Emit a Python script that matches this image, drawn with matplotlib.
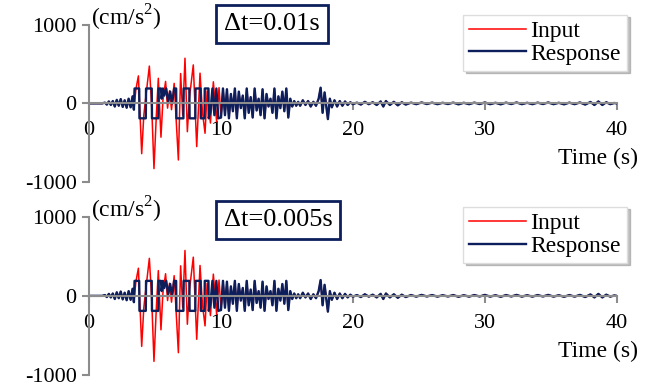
import matplotlib
matplotlib.use("Agg")
import matplotlib.pyplot as plt
import numpy as np

SERIF_FONT = "Liberation Serif"
TICK_SIZE = 16
TEXT_SIZE = 17
BOX_SIZE = 19
COLOR_INPUT = "#ff0000"
COLOR_RESPONSE = "#0c1f5c"
COLOR_AXIS = "#8c8c8c"

# quiet start (same for input and response)
pre_t = [0.0, 1.0, 1.2, 1.35, 1.5, 1.65, 1.8, 1.95, 2.1, 2.25, 2.4, 2.55, 2.7,
         2.85, 3.0, 3.15, 3.3, 3.4]
pre_a = [0, 0, 10, -15, 25, -20, 30, -40, 45, -30, 55, -45, 40, -55, 60, -50,
         90, -80]

# strong part of the input record
main_in_t = [3.55, 3.74, 3.99, 4.15, 4.3, 4.57, 4.75, 4.92, 5.1, 5.25, 5.45,
             5.6, 5.8, 5.95, 6.1, 6.25, 6.45, 6.77, 6.94, 7.1, 7.27, 7.45, 7.6,
             7.9, 8.16, 8.41, 8.6, 8.79, 8.95, 9.2, 9.42, 9.67, 9.85]
main_in_a = [180, 350, -640, -150, 80, 475, -50, -830, -150, 320, -430, 40,
             280, -60, 160, -80, 255, -720, 380, -150, 575, -360, 60, 490,
             -550, 385, -120, -380, 160, -250, 275, -234, 200]

# strong part of the response (capped near +/-190)
main_resp_t = [3.45, 3.8, 3.82, 4.3, 4.32, 4.75, 4.77, 5.25, 5.27, 5.45, 5.5,
               5.6, 5.7, 5.85, 6.0, 6.15, 6.3, 6.45, 6.6, 6.62, 7.15, 7.17,
               7.6, 7.62, 8.05, 8.07, 8.45, 8.47, 8.75, 8.77, 9.05, 9.07, 9.2,
               9.35, 9.5, 9.65, 9.8]
main_resp_a = [190, 190, -190, -190, 190, 190, -190, -190, 190, 190, 60, 190,
               100, 190, 20, 150, 0, 190, 190, -190, -190, 190, 190, -190,
               -190, 190, 190, -190, -190, 190, 190, -190, -100, 190, -150,
               190, -190]

# decaying part (input and response overlap)
tail_t = [10.0, 10.15, 10.3, 10.45, 10.6, 10.75, 10.9, 11.05, 11.2, 11.35,
          11.5, 11.65, 11.8, 11.95, 12.1, 12.25, 12.4, 12.55, 12.7, 12.85,
          13.0, 13.15, 13.3, 13.45, 13.6, 13.75, 13.9, 14.05, 14.2, 14.35,
          14.5, 14.65, 14.8, 14.95, 15.1, 15.25, 15.4, 15.55, 15.7, 15.85,
          16.0, 16.2, 16.4, 16.6, 16.8, 17.0, 17.2, 17.4, 17.55, 17.7, 17.85,
          18.0, 18.1, 18.25, 18.4, 18.6, 18.8, 19.0, 19.2, 19.4, 19.6, 19.8,
          20.0, 20.3, 20.6, 20.9, 21.2, 21.5, 21.8, 22.1, 22.3, 22.5, 22.8,
          23.1, 23.4, 23.7, 24.0, 24.4, 24.8, 25.2, 25.6, 26.0, 26.4, 26.8,
          27.2, 27.6, 28.0, 28.4, 28.8, 29.2, 29.6, 30.0, 30.4, 30.8, 31.2,
          31.6, 32.0, 32.4, 32.8, 33.2, 33.6, 34.0, 34.4, 34.8, 35.2, 35.6,
          36.0, 36.4, 36.8, 37.2, 37.6, 38.0, 38.3, 38.6, 38.9, 39.2, 39.5,
          39.8, 40.0]
tail_a = [-180, 190, -150, 180, -190, 120, -100, 190, -190, 150, -60, 100,
          -190, 190, -120, 80, -180, 190, -90, 60, -150, 180, -190, 120, -40,
          60, -120, 190, -190, 90, -60, 150, -100, 190, -180, 60, -40, 30,
          -30, 20, -30, 40, -20, 30, -40, 20, -30, 60, 200, -120, 140, -60,
          -200, 60, -50, 40, -40, 30, -30, 25, -20, 15, -10, 10, -15, 20, -10,
          15, -20, 25, -40, 30, -20, 20, -25, 15, -15, 10, -10, 12, -8, 10,
          -10, 8, -8, 10, -12, 8, -10, 10, -8, 12, -10, 8, -12, 10, -8, 12,
          -10, 8, -10, 10, -8, 12, -10, 8, -12, 10, -10, 12, -15, 18, -20, 25,
          -20, 15, -10, 5, 0]

panel_labels = ["\u0394t=0.01s", "\u0394t=0.005s"]
x_ticks = [0, 10, 20, 30, 40]
y_ticks = [-1000, 0, 1000]

t_input = np.array(pre_t + main_in_t + tail_t)
a_input = np.array(pre_a + main_in_a + tail_a)
t_resp = np.array(pre_t + main_resp_t + tail_t)
a_resp = np.array(pre_a + main_resp_a + tail_a)

plt.rcParams["font.family"] = [SERIF_FONT, "DejaVu Serif"]
plt.rcParams["axes.unicode_minus"] = False
plt.rcParams["mathtext.fontset"] = "custom"
plt.rcParams["mathtext.rm"] = SERIF_FONT

fig = plt.figure(figsize=(6.5, 3.88), dpi=100)
axes = [fig.add_axes([0.137, 0.531, 0.812, 0.405]),
        fig.add_axes([0.137, 0.034, 0.812, 0.407])]

box_x = [0.347, 0.358]
box_y = [1.006, 0.981]

for i, ax in enumerate(axes):
    ax.plot(t_input, a_input, color=COLOR_INPUT, lw=1.1, label="Input")
    ax.plot(t_resp, a_resp, color=COLOR_RESPONSE, lw=1.7, label="Response")

    ax.set_xlim(0, 40)
    ax.set_ylim(-1000, 1000)
    ax.set_xticks(x_ticks)
    ax.set_yticks(y_ticks)

    ax.spines["top"].set_visible(False)
    ax.spines["right"].set_visible(False)
    ax.spines["bottom"].set_position(("data", 0))
    for side in ["bottom", "left"]:
        ax.spines[side].set_color(COLOR_AXIS)
        ax.spines[side].set_linewidth(1.5)
    ax.tick_params(axis="both", colors=COLOR_AXIS, width=1.5, length=5,
                   labelcolor="black", labelsize=TICK_SIZE)
    ax.tick_params(axis="x", pad=8)
    ax.tick_params(axis="y", pad=4)
    ax.patch.set_alpha(0)

    ax.text(0.004, 1.045, r"(cm/s$^{2}$)", transform=ax.transAxes,
            ha="left", va="center", fontsize=TEXT_SIZE)
    ax.text(1.04, 0.15, "Time (s)", transform=ax.transAxes,
            ha="right", va="center", fontsize=TEXT_SIZE)
    ax.text(box_x[i], box_y[i], panel_labels[i], transform=ax.transAxes,
            ha="center", va="center", fontsize=BOX_SIZE,
            bbox=dict(boxstyle="square,pad=0.3", fc="white",
                      ec=COLOR_RESPONSE, lw=2))

    ax.legend(loc="upper right", bbox_to_anchor=(1.019, 1.065),
              fontsize=TEXT_SIZE, frameon=True, fancybox=False,
              shadow={"color": "#999999", "alpha": 0.6},
              edgecolor="#dddddd", handlelength=2.4, handletextpad=0.2,
              borderpad=0.25, labelspacing=0.05, borderaxespad=0)

fig.savefig("out.png", dpi=100)
